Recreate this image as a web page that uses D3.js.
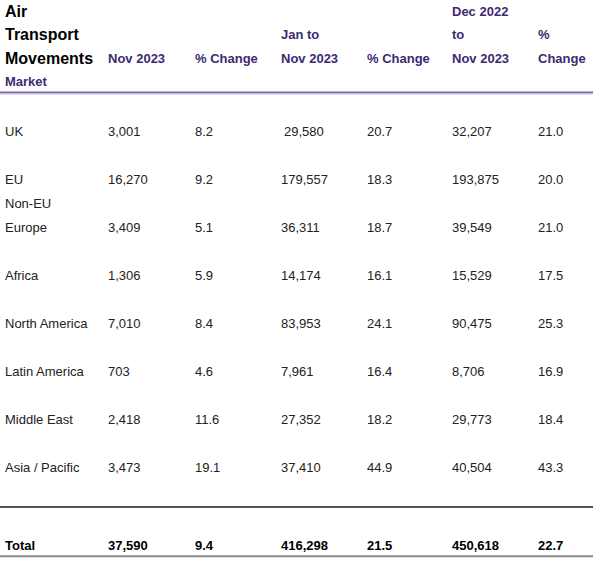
<!DOCTYPE html>
<html>
<head>
<meta charset="utf-8">
<script src="https://cdn.jsdelivr.net/npm/d3@7"></script>
<style>
  html, body { margin: 0; padding: 0; background: #fff; }
  svg { display: block; }
</style>
</head>
<body>
<svg id="chart" width="602" height="568"></svg>
<script>
// ---- Data ----
const markets = ["UK", "EU", "Non-EU\nEurope", "Africa", "North America", "Latin America", "Middle East", "Asia / Pacific"];
const nov2023 = [3001, 16270, 3409, 1306, 7010, 703, 2418, 3473];
const nov2023Change = [8.2, 9.2, 5.1, 5.9, 8.4, 4.6, 11.6, 19.1];
const janToNov2023 = [29580, 179557, 36311, 14174, 83953, 7961, 27352, 37410];
const janToNovChange = [20.7, 18.3, 18.7, 16.1, 24.1, 16.4, 18.2, 44.9];
const decToNov2023 = [32207, 193875, 39549, 15529, 90475, 8706, 29773, 40504];
const decToNovChange = [21.0, 20.0, 21.0, 17.5, 25.3, 16.9, 18.4, 43.3];
const totalRow = ["Total", 37590, 9.4, 416298, 21.5, 450618, 22.7];
const titleLines = ["Air", "Transport", "Movements"];
const columnHeaders = [
  ["Nov 2023"],
  ["% Change"],
  ["Jan to", "Nov 2023"],
  ["% Change"],
  ["Dec 2022", "to", "Nov 2023"],
  ["%", "Change"]
];
const subHeader = "Market";

// ---- Layout ----
const svg = d3.select("#chart");
const fontFamily = "'Liberation Sans', Arial, Helvetica, sans-serif";
const purple = "#3d2a72";
const textColor = "#222";

const colKeys = ["label", "c1", "c2", "c3", "c4", "c5", "c6"];
const x = d3.scaleOrdinal().domain(colKeys).range([5, 108, 195, 281, 367, 452, 538]);
// row slots
const y = d3.scaleLinear().domain([0, 1]).range([131, 179]);
// header line positions (slot -3 .. 0 ~ lines at 11,35,58,82)
const hy = d3.scaleLinear().domain([0, 1]).range([11, 34.5]);

const fmtInt = d3.format(",");
const fmtPct = d3.format(".1f");

// Title (bold black)
svg.append("g").selectAll("text").data(titleLines).join("text")
  .attr("x", x("label"))
  .attr("y", (d, i) => hy(i))
  .attr("dy", "0.36em")
  .attr("font-family", fontFamily)
  .attr("font-size", 16)
  .attr("font-weight", "bold")
  .attr("fill", "#000")
  .text(d => d);

svg.append("text")
  .attr("x", x("label"))
  .attr("y", hy(3))
  .attr("dy", "0.36em")
  .attr("font-family", fontFamily)
  .attr("font-size", 13)
  .attr("font-weight", "bold")
  .attr("fill", purple)
  .text(subHeader);

// Column headers, bottom-aligned at line index 2
const hdr = svg.append("g");
columnHeaders.forEach((lines, ci) => {
  hdr.selectAll(null).data(lines).join("text")
    .attr("x", x(colKeys[ci + 1]))
    .attr("y", (d, i) => hy(2 - (lines.length - 1 - i)))
    .attr("dy", "0.36em")
    .attr("font-family", fontFamily)
    .attr("font-size", 13)
    .attr("font-weight", "bold")
    .attr("fill", purple)
    .text(d => d);
});

// Header rule
svg.append("line").attr("x1", 0).attr("x2", 593).attr("y1", 92.5).attr("y2", 92.5)
  .attr("stroke", "#7a68a8").attr("stroke-width", 2);
svg.append("line").attr("x1", 0).attr("x2", 593).attr("y1", 94).attr("y2", 94)
  .attr("stroke", "#cbbfe2").attr("stroke-width", 1);

// Body rows
const rows = markets.map((m, i) => ({
  label: m,
  cells: [fmtInt(nov2023[i]), fmtPct(nov2023Change[i]), fmtInt(janToNov2023[i]),
          fmtPct(janToNovChange[i]), fmtInt(decToNov2023[i]), fmtPct(decToNovChange[i])],
  slot: i
}));

const body = svg.append("g")
  .attr("font-family", fontFamily)
  .attr("font-size", 13)
  .attr("fill", textColor);

const rowG = body.selectAll("g.row").data(rows).join("g").attr("class", "row");

rowG.each(function (d) {
  const g = d3.select(this);
  const ry = y(d.slot);
  const labelLines = d.label.split("\n");
  g.selectAll("text.lab").data(labelLines).join("text").attr("class", "lab")
    .attr("x", x("label"))
    .attr("y", (t, i) => ry - (labelLines.length - 1 - i) * 24)
    .attr("dy", "0.36em")
    .text(t => t);
  g.selectAll("text.val").data(d.cells).join("text").attr("class", "val")
    .attr("x", (t, i) => x(colKeys[i + 1]) + (d.slot === 0 && i === 2 ? 3 : 0))
    .attr("y", ry)
    .attr("dy", "0.36em")
    .text(t => t);
});

// Bottom rules and total
svg.append("line").attr("x1", 0).attr("x2", 593).attr("y1", 507).attr("y2", 507)
  .attr("stroke", "#555").attr("stroke-width", 2);
svg.append("line").attr("x1", 0).attr("x2", 593).attr("y1", 556.3).attr("y2", 556.3)
  .attr("stroke", "#888").attr("stroke-width", 2);

const totalCells = totalRow.map((v, i) => i === 0 ? v : (i % 2 === 1 ? fmtInt(v) : fmtPct(v)));
svg.append("g").selectAll("text").data(totalCells).join("text")
  .attr("x", (d, i) => x(colKeys[i]))
  .attr("y", 545)
  .attr("dy", "0.36em")
  .attr("font-family", fontFamily)
  .attr("font-size", 13)
  .attr("font-weight", "bold")
  .attr("fill", "#000")
  .text(d => d);
</script>
</body>
</html>
